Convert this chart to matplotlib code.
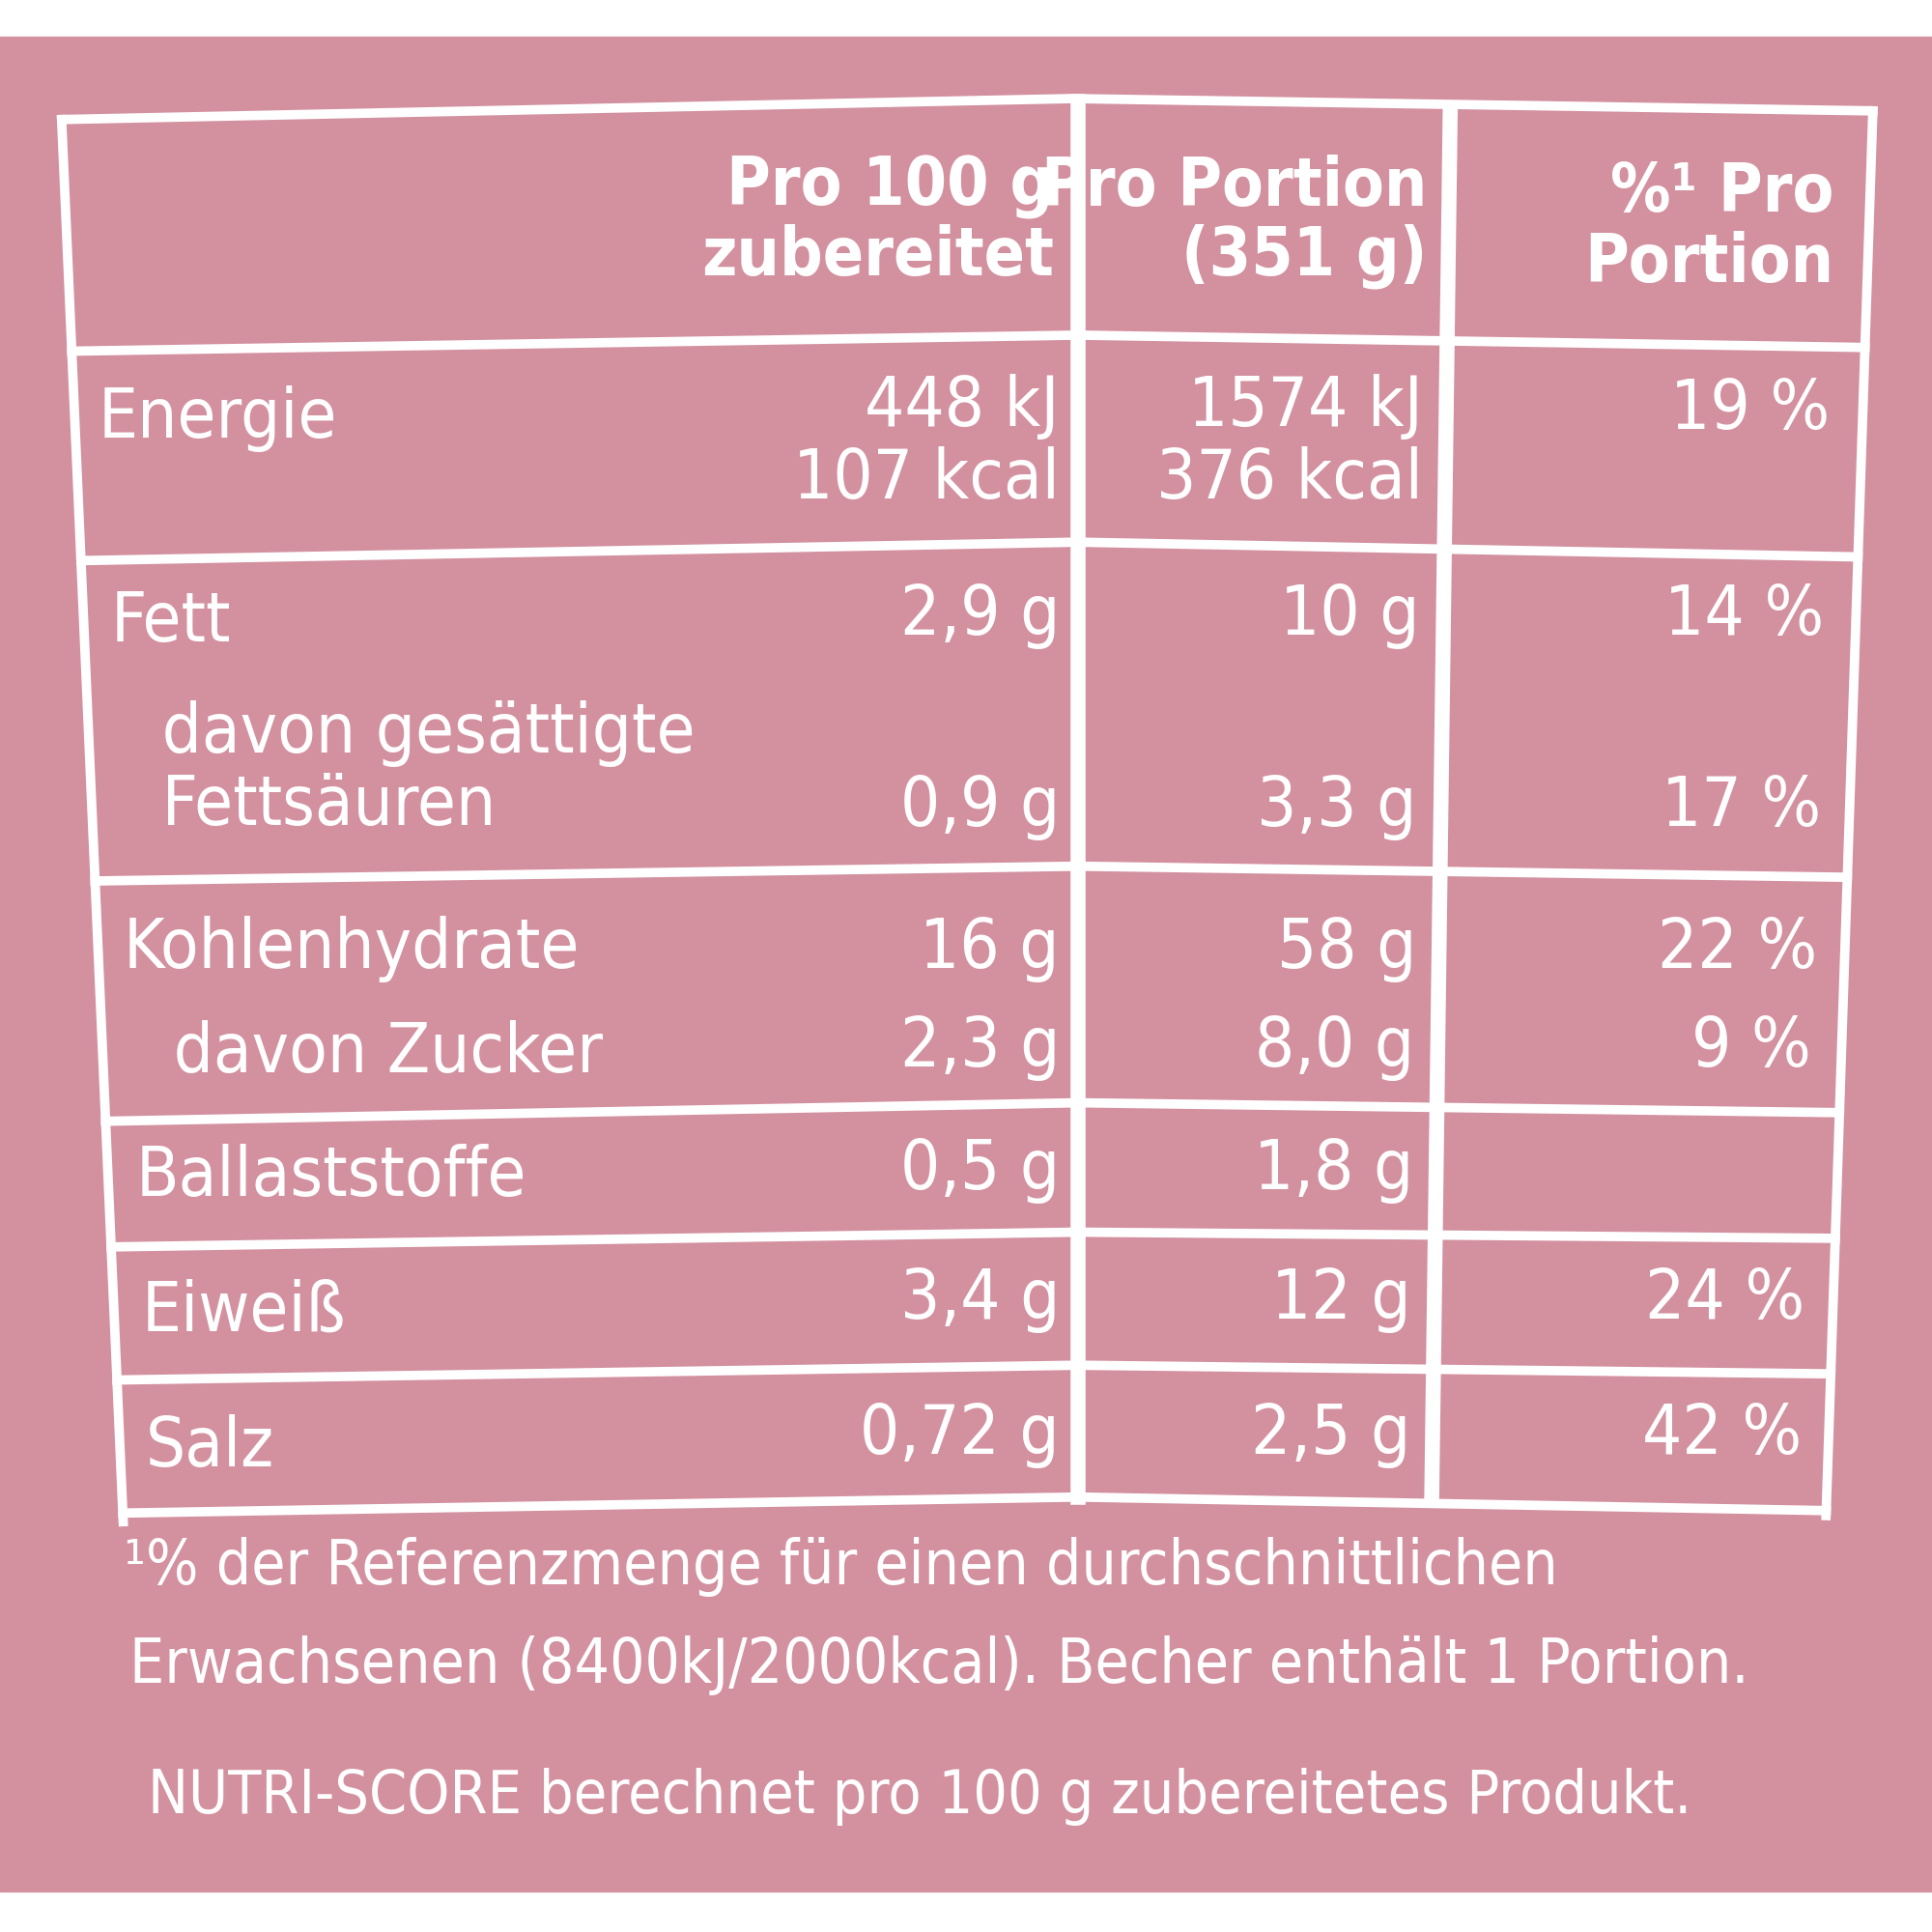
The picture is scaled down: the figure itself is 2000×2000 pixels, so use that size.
import matplotlib
matplotlib.use("Agg")
import matplotlib.pyplot as plt

headers = ["Pro 100 g\nzubereitet", "Pro Portion\n(351 g)", "%¹ Pro\nPortion"]
labels = ["Energie", "Fett", " davon gesättigte\n Fettsäuren", "Kohlenhydrate", " davon Zucker",
          "Ballaststoffe", "Eiweiß", "Salz"]
per100 = ["448 kJ\n107 kcal", "2,9 g", "0,9 g", "16 g", "2,3 g", "0,5 g", "3,4 g", "0,72 g"]
perportion = ["1574 kJ\n376 kcal", "10 g", "3,3 g", "58 g", "8,0 g", "1,8 g", "12 g", "2,5 g"]
percent = ["19 %", "14 %", "17 %", "22 %", "9 %", "", "24 %", "42 %"]
footnote = ["¹% der Referenzmenge für einen durchschnittlichen",
            "Erwachsenen (8400kJ/2000kcal). Becher enthält 1 Portion.",
            "NUTRI-SCORE berechnet pro 100 g zubereitetes Produkt."]

plt.rcParams['font.family'] = ['DejaVu Sans']
plt.rcParams['font.stretch'] = 'condensed'
W = 1568
fig = plt.figure(figsize=(20, 20), dpi=100)
ax = fig.add_axes([0, 0, 1, 1])
ax.set_xlim(0, W); ax.set_ylim(W, 0); ax.axis('off')
fig.patch.set_facecolor('white')
pink = '#D3909F'
ax.add_patch(plt.Rectangle((0, 30), W, 1505, color=pink, zorder=0))

lw = 7
wc = 'white'
top = [(50, 97), (870, 80), (1520, 90)]
ax.plot([p[0] for p in top], [p[1] for p in top], color=wc, lw=lw)
ax.plot([50, 100], [97, 1235], color=wc, lw=lw)
ax.plot([1520, 1482], [90, 1230], color=wc, lw=lw)
rows = [(285, 272, 282), (455, 440, 452), (715, 703, 712), (910, 895, 903),
        (1012, 1000, 1005), (1120, 1108, 1115), (1228, 1215, 1226)]
for yl, ym, yr in rows:
    xl = 50 + (yl - 97) / (1235 - 97) * 50
    xr = 1520 - (yr - 90) / (1230 - 90) * 38
    ax.plot([xl, 875, xr], [yl, ym, yr], color=wc, lw=lw)
ax.plot([875, 875], [82, 1215], color=wc, lw=lw * 1.6)
ax.plot([1177, 1162], [88, 1215], color=wc, lw=lw * 1.6)

fs = 52
tk = dict(color='white', fontsize=fs, linespacing=1.1)
hk = dict(color='white', fontsize=50, linespacing=1.1, fontweight='bold')
ax.text(855, 180, headers[0], ha='right', va='center', **hk)
ax.text(1158, 180, headers[1], ha='right', va='center', **hk)
ax.text(1488, 185, headers[2], ha='right', va='center', **hk)

lpos = [(80, 340), (90, 505), (115, 625), (100, 770), (125, 855), (110, 955), (115, 1065), (118, 1175)]
vy = [360, 500, 655, 770, 850, 950, 1055, 1165]
x1 = [860, 860, 860, 860, 860, 860, 860, 860]
x2 = [1155, 1152, 1150, 1150, 1148, 1147, 1145, 1145]
x3 = [1485, 1480, 1478, 1475, 1470, 1470, 1465, 1462]
for i in range(len(labels)):
    ax.text(lpos[i][0], lpos[i][1], labels[i], ha='left', va='center', **tk)
    ax.text(x1[i], vy[i], per100[i], ha='right', va='center', **tk)
    ax.text(x2[i], vy[i], perportion[i], ha='right', va='center', **tk)
    y3 = 333 if i == 0 else vy[i]
    ax.text(x3[i], y3, percent[i], ha='right', va='center', **tk)

ax.text(100, 1272, footnote[0], ha='left', va='center', color='white', fontsize=46)
ax.text(105, 1352, footnote[1], ha='left', va='center', color='white', fontsize=46)
ax.text(120, 1458, footnote[2], ha='left', va='center', color='white', fontsize=45)

fig.savefig("out.png", dpi=100)
